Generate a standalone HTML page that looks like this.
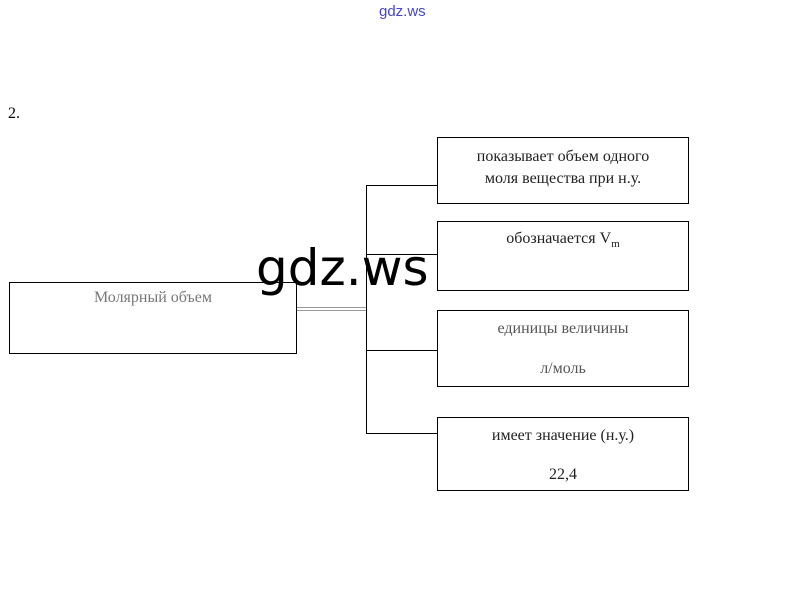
<!DOCTYPE html>
<html><head><meta charset="utf-8"><style>
body{margin:0;width:812px;height:600px;background:#fff;position:relative;overflow:hidden;font-family:"Liberation Serif",serif;}
.b{position:absolute;border:1px solid #000;box-sizing:border-box;text-align:center;font-size:16px;color:#222;}
.l{position:absolute;background:#000;}
</style></head><body>
<div style="position:absolute;left:379px;top:3px;font-family:'Liberation Sans',sans-serif;font-size:15px;color:#4646c8;">gdz.ws</div>
<div style="position:absolute;left:8px;top:105px;font-size:16px;">2.</div>
<div class="b" style="left:9px;top:282px;width:288px;height:72px;color:#777;padding-top:6px;">Молярный объем</div>
<div class="b" style="left:437px;top:137px;width:252px;height:67px;padding-top:8px;line-height:22px;">показывает объем одного<br>моля вещества при н.у.</div>
<div class="b" style="left:437px;top:221px;width:252px;height:70px;padding-top:8px;">обозначается V<sub style="font-size:11px">m</sub></div>
<div class="b" style="left:437px;top:310px;width:252px;height:77px;padding-top:8px;line-height:40px;color:#555;"><div style="line-height:20px">единицы величины</div><div style="line-height:20px;margin-top:20px">л/моль</div></div>
<div class="b" style="left:437px;top:417px;width:252px;height:74px;padding-top:8px;"><div style="line-height:20px">имеет значение (н.у.)</div><div style="line-height:20px;margin-top:19px">22,4</div></div>
<div class="l" style="left:366px;top:185px;width:1px;height:249px;"></div>
<div class="l" style="left:366px;top:185px;width:71px;height:1px;"></div>
<div class="l" style="left:366px;top:254px;width:71px;height:1px;"></div>
<div class="l" style="left:366px;top:350px;width:71px;height:1px;"></div>
<div class="l" style="left:366px;top:433px;width:71px;height:1px;"></div>
<div class="l" style="left:297px;top:307px;width:69px;height:1px;background:#999;"></div>
<div class="l" style="left:297px;top:310px;width:69px;height:1px;background:#999;"></div>
<div style="position:absolute;left:256px;top:238px;font-family:'DejaVu Sans',sans-serif;font-size:50px;line-height:60px;color:#000;">gdz.ws</div>
</body></html>
